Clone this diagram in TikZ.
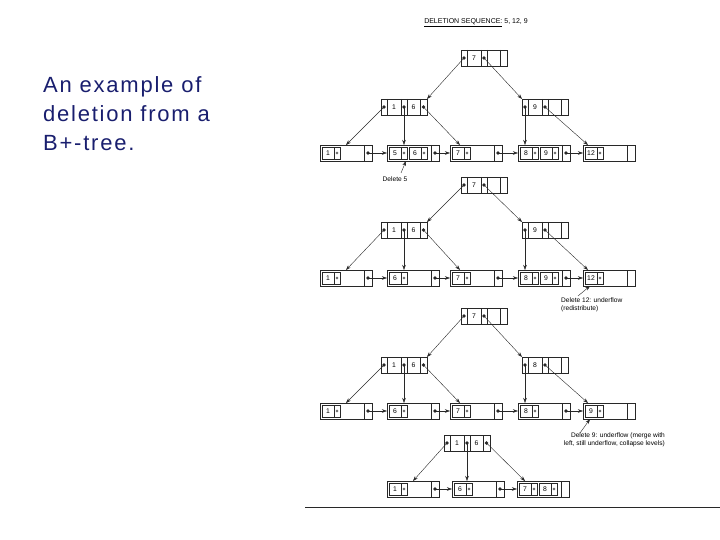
\documentclass[tikz,border=0pt]{standalone}
\usepackage{fontspec}
\setmainfont{Liberation Sans}
\usetikzlibrary{arrows.meta,calc}
\definecolor{navy}{RGB}{25,30,110}
\definecolor{ln}{RGB}{40,40,40}
\tikzset{
  box/.style={draw=ln, line width=0.5pt, minimum width=46pt, minimum height=16pt, inner sep=0pt, outer sep=0pt, anchor=north west},
  leafbox/.style={box, minimum width=52pt},
  entry/.style={draw=ln, line width=0.4pt, minimum width=18pt, minimum height=12pt, inner sep=0pt, outer sep=0pt, anchor=west},
  keytxt/.style={font=\fontsize{6.8}{7}\selectfont, inner sep=0pt},
  ptr/.style={draw=ln, line width=0.4pt, -{Stealth[length=5pt,width=3.5pt]}},
  note/.style={font=\fontsize{6.6}{7.6}\selectfont, inner sep=0pt},
  side/.style={font=\fontsize{22}{29}\selectfont\addfontfeatures{LetterSpace=8}, text=navy, inner sep=0pt, anchor=base west},
}
% internal node: name, x, y(top), key1, key2
\newcommand\inode[5]{%
  \node[box] (#1) at (#2,#3) {};
  \foreach \d in {6,20,26,39} {\draw[ln, line width=0.4pt] ($(#1.north west)+(\d,0)$) -- ($(#1.south west)+(\d,0)$);}
  \node[keytxt] (#1-k1) at ($(#1.west)+(13,0)$) {#4};
  \node[keytxt] (#1-k2) at ($(#1.west)+(32.5,0)$) {#5};
  \coordinate (#1-p1) at ($(#1.west)+(3,0)$);
  \coordinate (#1-p2) at ($(#1.west)+(23,0)$);
  \coordinate (#1-p3) at ($(#1.west)+(42.5,0)$);
}
% leaf node: name, x, y(top)
\newcommand\leafnode[3]{%
  \node[leafbox] (#1) at (#2,#3) {};
  \draw[ln, line width=0.4pt] ($(#1.north west)+(44,0)$) -- ($(#1.south west)+(44,0)$);
  \coordinate (#1-nx) at ($(#1.west)+(48,0)$);
}
% leaf entry: name, leaf, offset, key
\newcommand\lentry[4]{%
  \node[entry] (#1) at ($(#2.west)+(#3,0)$) {};
  \draw[ln, line width=0.4pt] ($(#1.north west)+(12,0)$) -- ($(#1.south west)+(12,0)$);
  \node[keytxt] (#1-k) at ($(#1.west)+(6,0)$) {#4};
  \draw[ln, line width=0.3pt] ($(#1.west)+(15,0)$) circle (1.1pt);
}
% pointer: from coordinate (with dot) to target
\newcommand\ptrto[2]{\fill[ln] (#1) circle (1.8pt); \draw[ptr] (#1) -- (#2);}
\begin{document}
\begin{tikzpicture}[x=1pt, y=-1pt]
\useasboundingbox (0,0) rectangle (720,540);

% side text
\node[side] (s1) at (43,93) {An example of};
\node[side] (s2) at (43,122) {deletion from a};
\node[side] (s3) at (43,151) {B+-tree.};

% title
\node[font=\fontsize{7}{8}\selectfont, inner sep=0pt] (title) at (476,23) {\underline{DELETION SEQUENCE:} 5, 12, 9};

% ---------------- tree 1
\inode{a-r}{461}{50}{7}{}
\inode{a-i1}{381}{99}{1}{6}
\inode{a-i2}{522}{99}{9}{}
\leafnode{a-l1}{320}{145} \lentry{a-l1-e1}{a-l1}{2}{1}
\leafnode{a-l2}{387}{145} \lentry{a-l2-e1}{a-l2}{2}{5} \lentry{a-l2-e2}{a-l2}{22}{6}
\leafnode{a-l3}{450}{145} \lentry{a-l3-e1}{a-l3}{2}{7}
\leafnode{a-l4}{518}{145} \lentry{a-l4-e1}{a-l4}{2}{8} \lentry{a-l4-e2}{a-l4}{22}{9}
\leafnode{a-l5}{583}{145} \lentry{a-l5-e1}{a-l5}{2}{12}
\ptrto{a-r-p1}{a-i1.north east}
\ptrto{a-r-p2}{a-i2.north west}
\ptrto{a-i1-p1}{a-l1.north}
\ptrto{a-i1-p2}{a-i1-p2 |- a-l2.north}
\ptrto{a-i1-p3}{$(a-l3.north west)+(10,0)$}
\ptrto{a-i2-p1}{a-i2-p1 |- a-l4.north}
\ptrto{a-i2-p2}{$(a-l5.north west)+(5,0)$}
\ptrto{a-l1-nx}{a-l1-nx -| a-l2.west}
\ptrto{a-l2-nx}{a-l2-nx -| a-l3.west}
\ptrto{a-l3-nx}{a-l3-nx -| a-l4.west}
\ptrto{a-l4-nx}{a-l4-nx -| a-l5.west}
\node[note] (n1) at (395,179) {Delete 5};
\coordinate (n1a) at (401,173);
\draw[ptr] (n1a) -- ($(a-l2.south west)+(19,0)$);

% ---------------- tree 2
\inode{b-r}{461}{177}{7}{}
\inode{b-i1}{381}{222}{1}{6}
\inode{b-i2}{522}{222}{9}{}
\leafnode{b-l1}{320}{270} \lentry{b-l1-e1}{b-l1}{2}{1}
\leafnode{b-l2}{387}{270} \lentry{b-l2-e1}{b-l2}{2}{6}
\leafnode{b-l3}{450}{270} \lentry{b-l3-e1}{b-l3}{2}{7}
\leafnode{b-l4}{518}{270} \lentry{b-l4-e1}{b-l4}{2}{8} \lentry{b-l4-e2}{b-l4}{22}{9}
\leafnode{b-l5}{583}{270} \lentry{b-l5-e1}{b-l5}{2}{12}
\ptrto{b-r-p1}{b-i1.north east}
\ptrto{b-r-p2}{b-i2.north west}
\ptrto{b-i1-p1}{b-l1.north}
\ptrto{b-i1-p2}{b-i1-p2 |- b-l2.north}
\ptrto{b-i1-p3}{$(b-l3.north west)+(10,0)$}
\ptrto{b-i2-p1}{b-i2-p1 |- b-l4.north}
\ptrto{b-i2-p2}{$(b-l5.north west)+(5,0)$}
\ptrto{b-l1-nx}{b-l1-nx -| b-l2.west}
\ptrto{b-l2-nx}{b-l2-nx -| b-l3.west}
\ptrto{b-l3-nx}{b-l3-nx -| b-l4.west}
\ptrto{b-l4-nx}{b-l4-nx -| b-l5.west}
\node[note, anchor=north west, align=left] (n2) at (561,298) {Delete 12: underflow\\(redistribute)};
\coordinate (n2a) at (578,296);
\draw[ptr] (n2a) -- ($(b-l5.south west)+(7,0)$);

% ---------------- tree 3
\inode{c-r}{461}{308}{7}{}
\inode{c-i1}{381}{357}{1}{6}
\inode{c-i2}{522}{357}{8}{}
\leafnode{c-l1}{320}{403} \lentry{c-l1-e1}{c-l1}{2}{1}
\leafnode{c-l2}{387}{403} \lentry{c-l2-e1}{c-l2}{2}{6}
\leafnode{c-l3}{450}{403} \lentry{c-l3-e1}{c-l3}{2}{7}
\leafnode{c-l4}{518}{403} \lentry{c-l4-e1}{c-l4}{2}{8}
\leafnode{c-l5}{583}{403} \lentry{c-l5-e1}{c-l5}{2}{9}
\ptrto{c-r-p1}{c-i1.north east}
\ptrto{c-r-p2}{c-i2.north west}
\ptrto{c-i1-p1}{c-l1.north}
\ptrto{c-i1-p2}{c-i1-p2 |- c-l2.north}
\ptrto{c-i1-p3}{$(c-l3.north west)+(10,0)$}
\ptrto{c-i2-p1}{c-i2-p1 |- c-l4.north}
\ptrto{c-i2-p2}{$(c-l5.north west)+(5,0)$}
\ptrto{c-l1-nx}{c-l1-nx -| c-l2.west}
\ptrto{c-l2-nx}{c-l2-nx -| c-l3.west}
\ptrto{c-l3-nx}{c-l3-nx -| c-l4.west}
\ptrto{c-l4-nx}{c-l4-nx -| c-l5.west}
\node[note, anchor=north east, align=right] (n3) at (665,433) {Delete 9: underflow (merge with\\left, still underflow, collapse levels)};
\coordinate (n3a) at (580,433);
\draw[ptr] (n3a) -- ($(c-l5.south west)+(7,0)$);

% ---------------- tree 4
\inode{d-r}{444}{435}{1}{6}
\leafnode{d-l1}{387}{481} \lentry{d-l1-e1}{d-l1}{2}{1}
\leafnode{d-l2}{452}{481} \lentry{d-l2-e1}{d-l2}{2}{6}
\leafnode{d-l3}{517}{481} \lentry{d-l3-e1}{d-l3}{2}{7} \lentry{d-l3-e2}{d-l3}{22}{8}
\ptrto{d-r-p1}{d-l1.north}
\ptrto{d-r-p2}{d-r-p2 |- d-l2.north}
\ptrto{d-r-p3}{$(d-l3.north west)+(8,0)$}
\ptrto{d-l1-nx}{d-l1-nx -| d-l2.west}
\ptrto{d-l2-nx}{d-l2-nx -| d-l3.west}

% bottom rule
\coordinate (bl) at (305,507);
\coordinate (br) at (720,507);
\draw[ln, line width=0.8pt] (bl) -- (br);
\end{tikzpicture}
\end{document}
